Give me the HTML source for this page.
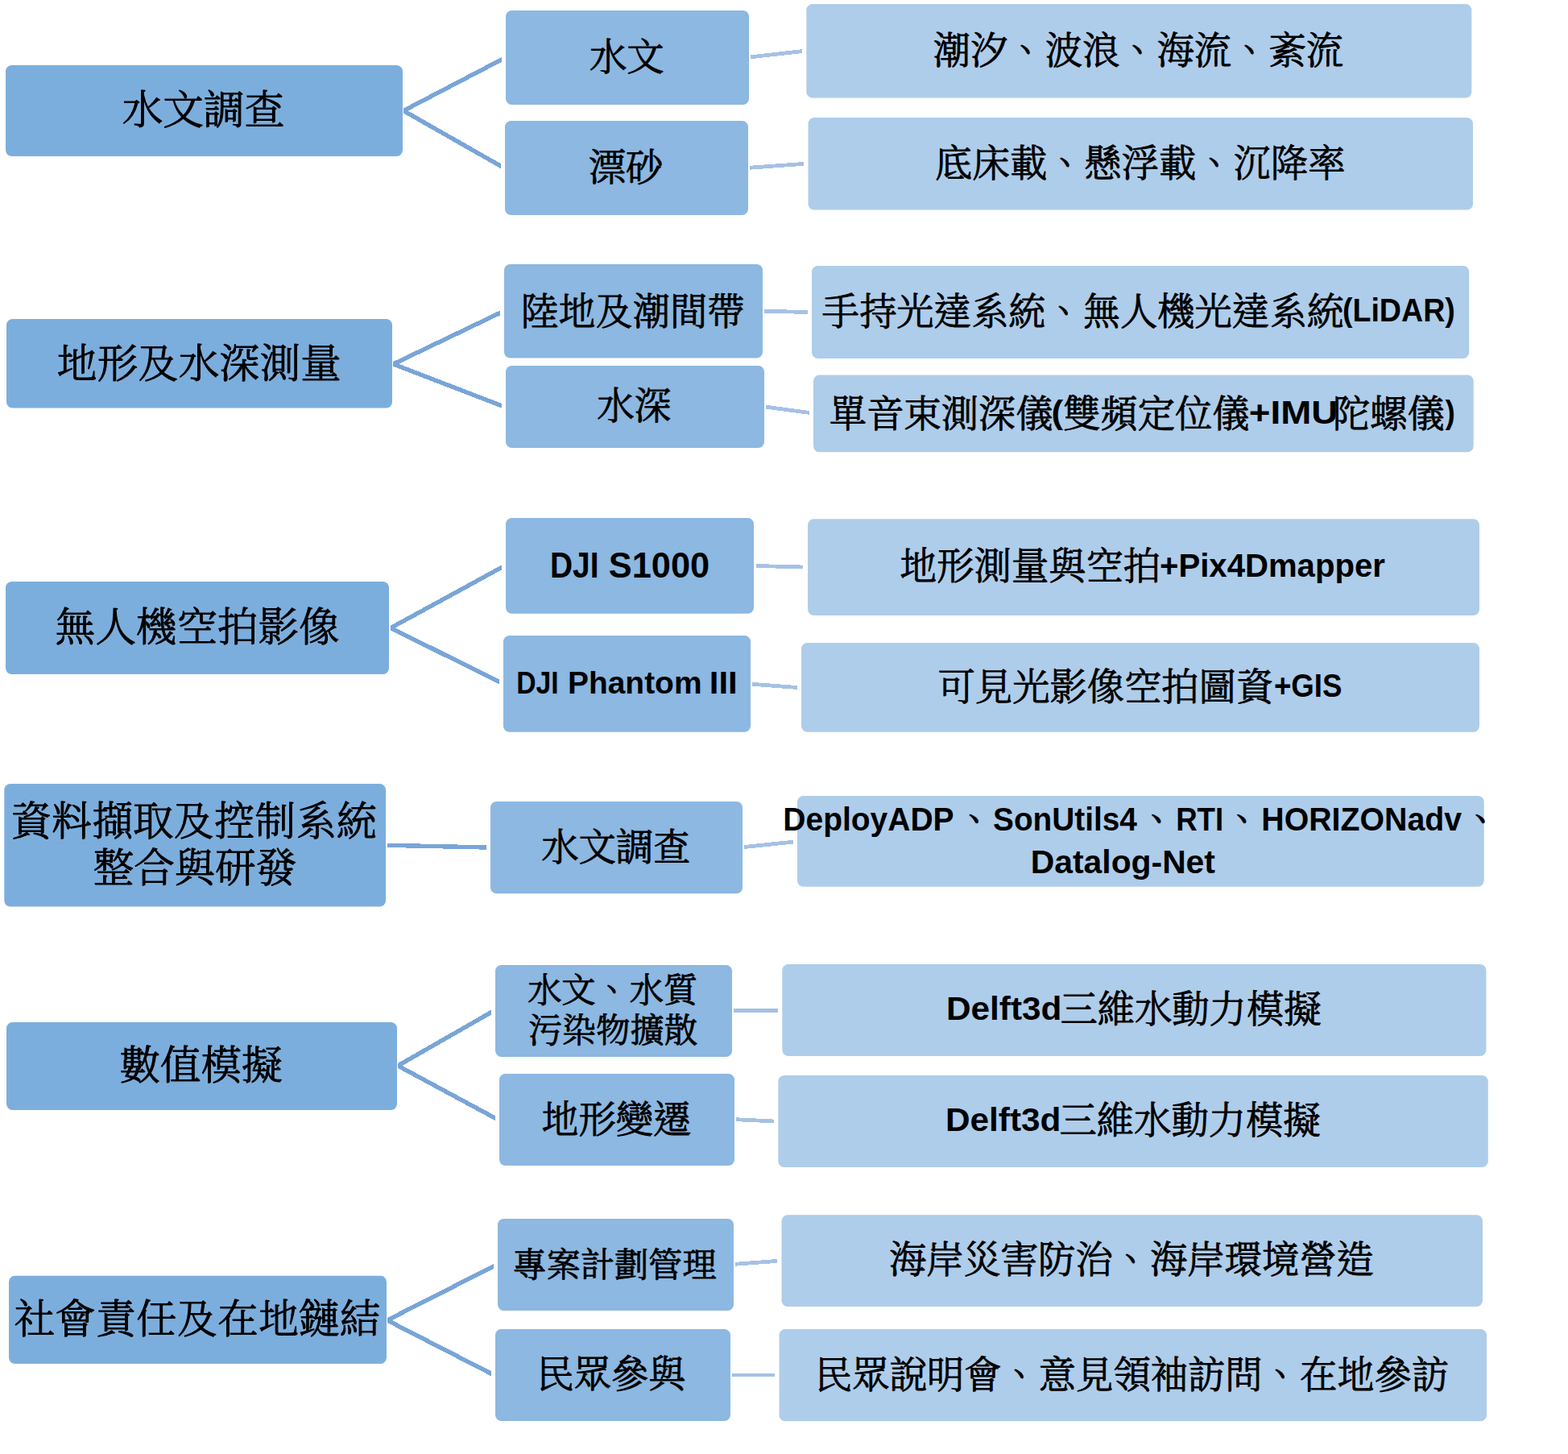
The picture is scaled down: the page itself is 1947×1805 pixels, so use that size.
<!DOCTYPE html>
<html lang="zh-Hant"><head><meta charset="utf-8"><title>技術服務項目架構圖</title>
<style>
html,body{margin:0;padding:0;background:#fff;}
body{width:1947px;height:1805px;overflow:hidden;}
svg{display:block;}
text{fill:#000;white-space:pre;}
.c{font-family:"Noto Serif CJK TC","Noto Serif CJK SC",serif;font-weight:300;stroke:#000;stroke-width:1.1;stroke-linejoin:round;}
.p{font-weight:500;stroke-width:0.6;}
.l{font-family:"Liberation Sans",sans-serif;font-weight:700;}
</style></head><body>
<svg width="1947" height="1805" viewBox="0 0 1947 1805">
<rect x="0" y="0" width="1947" height="1805" fill="#ffffff"/>
<g id="links1" fill="#79a5d7" shape-rendering="crispEdges">
<polygon points="501,134.45 622.7,70.95 622.7,77.05 501,140.55"/>
<polygon points="501,134.39 622,203.19 622,209.41 501,140.61"/>
<polygon points="488.3,449.01 621.1,385.31 621.1,391.29 488.3,454.99"/>
<polygon points="488.3,449.11 622.9,500.81 622.9,506.59 488.3,454.89"/>
<polygon points="485.2,776.42 622.9,701.32 622.9,707.48 485.2,782.58"/>
<polygon points="485.2,776.48 619.9,843.48 619.9,849.52 485.2,782.52"/>
<polygon points="481,1046.6 604,1049.3 604,1054.7 481,1052"/>
<polygon points="494,1319.89 610.2,1253.39 610.2,1259.61 494,1326.11"/>
<polygon points="494,1319.93 614.8,1384.93 614.8,1391.07 494,1326.07"/>
<polygon points="480.8,1635.97 612.8,1568.97 612.8,1575.03 480.8,1642.03"/>
<polygon points="480.8,1635.97 610,1702.27 610,1708.33 480.8,1642.03"/>
</g>
<g id="links2" fill="#a5c1e5" shape-rendering="crispEdges">
<polygon points="932.3,68.38 996,61.18 996,66.02 932.3,73.22"/>
<polygon points="931.2,205.79 997.7,200.99 997.7,205.81 931.2,210.61"/>
<polygon points="949.3,383.9 1003.1,385.1 1003.1,389.9 949.3,388.7"/>
<polygon points="951.1,502.78 1004.9,509.98 1004.9,514.82 951.1,507.62"/>
<polygon points="939,700.1 997.3,701.6 997.3,706.4 939,704.9"/>
<polygon points="934,846.89 990,851.09 990,855.91 934,851.71"/>
<polygon points="924.3,1049.09 985.3,1042.69 985.3,1047.51 924.3,1053.91"/>
<polygon points="910.9,1252.4 965.8,1251.7 965.8,1256.5 910.9,1257.2"/>
<polygon points="914,1387.3 961,1389.6 961,1394.4 914,1392.1"/>
<polygon points="912.7,1566.89 965.1,1562.99 965.1,1567.81 912.7,1571.71"/>
<polygon points="909,1704.6 962,1704.6 962,1709.4 909,1709.4"/>
</g>
<g id="level1" fill="#7caedd">
<rect x="7" y="81" width="493" height="113" rx="7.5" ry="7.5"/>
<rect x="8" y="396" width="479" height="110.5" rx="7.5" ry="7.5"/>
<rect x="7" y="722" width="476" height="115" rx="7.5" ry="7.5"/>
<rect x="5.3" y="973" width="473.7" height="152.5" rx="7.5" ry="7.5"/>
<rect x="8" y="1269" width="485" height="109" rx="7.5" ry="7.5"/>
<rect x="11" y="1583.7" width="469" height="109.3" rx="7.5" ry="7.5"/>
</g>
<g id="level2" fill="#8cb8e1">
<rect x="628" y="13" width="302" height="117" rx="7.5" ry="7.5"/>
<rect x="627" y="150" width="302" height="117" rx="7.5" ry="7.5"/>
<rect x="626" y="328" width="321" height="116.5" rx="7.5" ry="7.5"/>
<rect x="628" y="454" width="321" height="102" rx="7.5" ry="7.5"/>
<rect x="628" y="643" width="308" height="118.7" rx="7.5" ry="7.5"/>
<rect x="625" y="789" width="307" height="119.8" rx="7.5" ry="7.5"/>
<rect x="609" y="995" width="313" height="114.3" rx="7.5" ry="7.5"/>
<rect x="615" y="1198" width="294" height="114" rx="7.5" ry="7.5"/>
<rect x="620" y="1333" width="292" height="114" rx="7.5" ry="7.5"/>
<rect x="618" y="1513" width="293" height="114" rx="7.5" ry="7.5"/>
<rect x="615" y="1650" width="292" height="114" rx="7.5" ry="7.5"/>
</g>
<g id="level3" fill="#aecdea">
<rect x="1001.3" y="5" width="826" height="116.5" rx="7.5" ry="7.5"/>
<rect x="1003.5" y="146" width="825.5" height="114.6" rx="7.5" ry="7.5"/>
<rect x="1008" y="330" width="816.2" height="115" rx="7.5" ry="7.5"/>
<rect x="1010" y="465.5" width="819.7" height="95.8" rx="7.5" ry="7.5"/>
<rect x="1003" y="644.3" width="834" height="119.7" rx="7.5" ry="7.5"/>
<rect x="995" y="798" width="842" height="110.7" rx="7.5" ry="7.5"/>
<rect x="990" y="988" width="852.7" height="112.8" rx="7.5" ry="7.5"/>
<rect x="971.3" y="1197" width="874.1" height="114" rx="7.5" ry="7.5"/>
<rect x="966.3" y="1335" width="881.5" height="114" rx="7.5" ry="7.5"/>
<rect x="970.5" y="1508.3" width="870.5" height="113.7" rx="7.5" ry="7.5"/>
<rect x="967.5" y="1650" width="878.5" height="114.2" rx="7.5" ry="7.5"/>
</g>
<g id="labels">
<text id="t0" class="c" x="151.78" y="154.15" font-size="50.5">水文調查</text>
<text id="t1" class="c" x="70.3" y="469" font-size="50.5">地形及水深測量</text>
<text id="t2" class="c" x="68.05" y="795.95" font-size="50.5">無人機空拍影像</text>
<text id="t3" class="c" x="13.59" y="1037.15" font-size="50.5">資料擷取及控制系統</text>
<text id="t4" class="c" x="115.75" y="1095.25" font-size="50.5">整合與研發</text>
<text id="t5" class="c" x="148.62" y="1340.1" font-size="50.5">數值模擬</text>
<text id="t6" class="c" x="17.68" y="1654.9" font-size="50.5">社會責任及在地鏈結</text>
<text id="t7" class="c" x="731.9" y="86.95" font-size="46.3">水文</text>
<text id="t8" class="c" x="730.74" y="224.35" font-size="46.3">漂砂</text>
<text id="t9" class="c" x="646.89" y="402.5" font-size="46.3">陸地及潮間帶</text>
<text id="t10" class="c" x="741.33" y="520" font-size="46.3">水深</text>
<text id="t11" class="l" transform="translate(682.94 716.9) scale(0.8825 1)" font-size="44.1">DJI</text>
<text id="t12" class="l" transform="translate(755.82 716.9) scale(0.9826 1)" font-size="44.1">S1000</text>
<text id="t13" class="l" transform="translate(641.16 861.1) scale(0.8715 1)" font-size="38.7">DJI</text>
<text id="t14" class="l" transform="translate(704.89 861.1) scale(1.0068 1)" font-size="38.7">Phantom</text>
<text id="t15" class="l" transform="translate(880.73 861.1) scale(1.0843 1)" font-size="38.7">III</text>
<text id="t16" class="c" x="672.15" y="1068.3" font-size="46.3">水文調查</text>
<text id="t17" class="c" x="655.15" y="1244.4" font-size="42.2">水文、水質</text>
<text id="t18" class="c" x="655.89" y="1293.7" font-size="42.2">污染物擴散</text>
<text id="t19" class="c" x="672.27" y="1405.9" font-size="46.3">地形變遷</text>
<text id="t20" class="c" x="636.56" y="1584.75" font-size="42.2">專案計劃管理</text>
<text id="t21" class="c" x="666.42" y="1721.85" font-size="46.3">民眾參與</text>
<text id="t22" class="c" x="1158.77" y="79.1" font-size="46.3">潮汐、波浪、海流、紊流</text>
<text id="t23" class="c" x="1161.32" y="218.75" font-size="46.3">底床載、懸浮載、沉降率</text>
<text id="t24" class="c" x="1020.62" y="402.5" font-size="46.3">手持光達系統、無人機光達系統</text>
<text id="t25" class="l" transform="translate(1666.93 398.8) scale(0.9329 1)" font-size="40.3">(LiDAR)</text>
<text id="t26" class="c" x="1029.85" y="530" font-size="46.3">單音束測深儀</text>
<text id="t27" class="l" transform="translate(1305.62 525.8) scale(1.0917 1)" font-size="40.3">(</text>
<text id="t28" class="c" x="1320.13" y="529.5" font-size="46.3">雙頻定位儀</text>
<text id="t29" class="l" transform="translate(1550.87 525.8) scale(1.1347 1)" font-size="40.3">+IMU</text>
<text id="t30" class="c" x="1655.01" y="530" font-size="46.3">陀螺儀</text>
<text id="t31" class="l" transform="translate(1794.5 525.8) scale(0.9167 1)" font-size="40.3">)</text>
<text id="t32" class="c" x="1117" y="719.4" font-size="46.3">地形測量與空拍</text>
<text id="t33" class="l" transform="translate(1440 715.7) scale(0.9960 1)" font-size="40.3">+Pix4Dmapper</text>
<text id="t34" class="c" x="1164.56" y="868.9" font-size="46.3">可見光影像空拍圖資</text>
<text id="t35" class="l" transform="translate(1581.89 865) scale(0.9103 1)" font-size="40.3">+GIS</text>
<text id="t36" class="l" transform="translate(972.32 1030.6) scale(0.9395 1)" font-size="41.5">DeployADP</text>
<text id="t37" class="c p" x="1188" y="1033.65" font-size="45">、</text>
<text id="t38" class="l" transform="translate(1233.07 1030.6) scale(0.9343 1)" font-size="41.5">SonUtils4</text>
<text id="t39" class="c p" x="1414.4" y="1033.65" font-size="45">、</text>
<text id="t40" class="l" transform="translate(1460.13 1030.6) scale(0.8841 1)" font-size="41.5">RTI</text>
<text id="t41" class="c p" x="1520.4" y="1033.65" font-size="45">、</text>
<text id="t42" class="l" transform="translate(1566.31 1030.6) scale(0.9468 1)" font-size="41.5">HORIZONadv</text>
<text id="t43" class="c p" x="1816.7" y="1033.65" font-size="45">、</text>
<text id="t44" class="l" transform="translate(1279.83 1083.7) scale(0.9842 1)" font-size="41.5">Datalog-Net</text>
<text id="t45" class="l" transform="translate(1175 1265.6) scale(1.0503 1)" font-size="40.3">Delft3d</text>
<text id="t46" class="c" x="1316.45" y="1269" font-size="46.3">三維水動力模擬</text>
<text id="t47" class="l" transform="translate(1174 1403.7) scale(1.0503 1)" font-size="40.3">Delft3d</text>
<text id="t48" class="c" x="1315.5" y="1407.05" font-size="46.3">三維水動力模擬</text>
<text id="t49" class="c" x="1103.95" y="1580.25" font-size="46.3">海岸災害防治、海岸環境營造</text>
<text id="t50" class="c" x="1012.06" y="1722.5" font-size="46.3">民眾說明會、意見領袖訪問、在地參訪</text>
</g>
</svg>
</body></html>
